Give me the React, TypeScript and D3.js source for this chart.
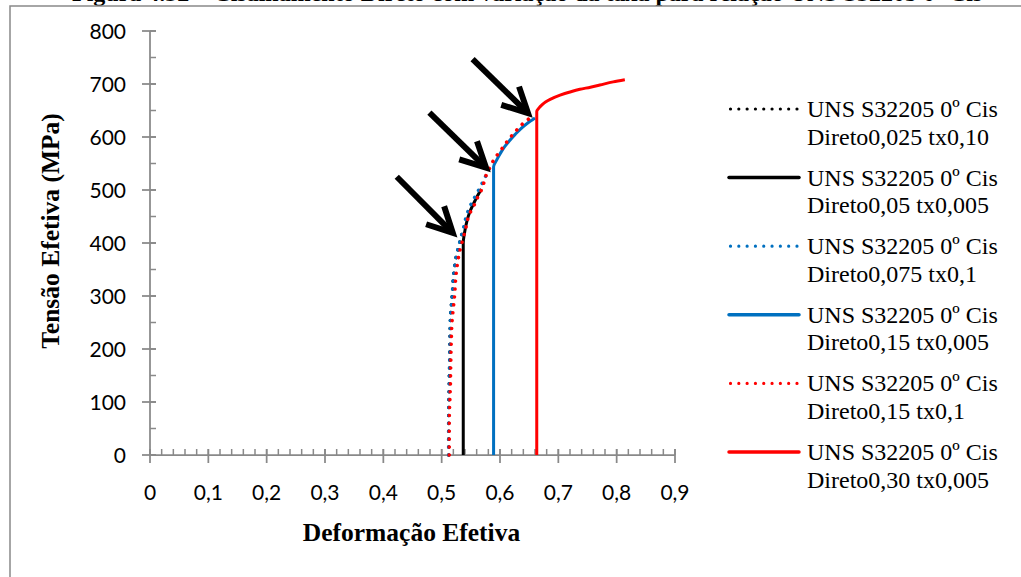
import React from "react";
import * as d3 from "d3";

type P = [number, number];

const xTicks = [0, 0.1, 0.2, 0.3, 0.4, 0.5, 0.6, 0.7, 0.8, 0.9];
const yTicks = [0, 100, 200, 300, 400, 500, 600, 700, 800];

const blackDotted: P[] = [
  [0.512, 0], [0.512, 60], [0.513, 134], [0.514, 194], [0.515, 255], [0.518, 299],
  [0.521, 344], [0.525, 374], [0.531, 400], [0.535, 416],
];
const blackSolid: P[] = [
  [0.537, 0], [0.537, 400], [0.539, 418], [0.543, 440], [0.548, 458], [0.555, 475],
  [0.562, 490], [0.568, 502],
];
const blueDotted: P[] = [
  [0.512, 0], [0.512, 60], [0.513, 134], [0.514, 194], [0.515, 255], [0.518, 299],
  [0.521, 344], [0.525, 374], [0.532, 406], [0.538, 431], [0.543, 453], [0.549, 470],
  [0.556, 485], [0.565, 503], [0.574, 523], [0.582, 541],
];
const blueSolid: P[] = [
  [0.589, 0], [0.589, 544], [0.594, 556], [0.6, 568], [0.608, 582], [0.617, 594],
  [0.626, 605], [0.636, 616], [0.647, 626], [0.66, 636],
];
const redDotted: P[] = [
  [0.513, 0], [0.513, 60], [0.515, 134], [0.516, 194], [0.518, 255], [0.522, 299],
  [0.525, 344], [0.529, 374], [0.536, 406], [0.539, 418], [0.542, 431], [0.547, 453],
  [0.551, 462], [0.556, 472], [0.559, 481], [0.565, 492], [0.569, 503], [0.573, 516],
  [0.577, 530], [0.584, 545], [0.591, 560], [0.598, 570], [0.606, 582], [0.614, 594],
  [0.623, 606], [0.631, 616], [0.641, 627], [0.653, 637],
];
const redSolid: P[] = [
  [0.663, 0], [0.663, 648], [0.667, 655], [0.6715, 660], [0.678, 666], [0.686, 671],
  [0.703, 679], [0.72, 685], [0.737, 690], [0.755, 694], [0.771, 698], [0.794, 704],
  [0.814, 708],
];

const seriesNames = [
  ["UNS S32205 0º Cis", "Direto0,025 tx0,10"],
  ["UNS S32205 0º Cis", "Direto0,05 tx0,005"],
  ["UNS S32205 0º Cis", "Direto0,075 tx0,1"],
  ["UNS S32205 0º Cis", "Direto0,15 tx0,005"],
  ["UNS S32205 0º Cis", "Direto0,15 tx0,1"],
  ["UNS S32205 0º Cis", "Direto0,30 tx0,005"],
];
const seriesData = [blackDotted, blackSolid, blueDotted, blueSolid, redDotted, redSolid];
const seriesColors = ["#000000", "#000000", "#0070C0", "#0070C0", "#FF0000", "#FF0000"];
const seriesDotted = [true, false, true, false, true, false];

// annotation arrows: [start, tip] in data units
const arrows: [P, P][] = [
  [[0.423, 525], [0.519, 419]],
  [[0.479, 646], [0.576, 542]],
  [[0.553, 747], [0.648, 645]],
];

const W = 1021;
const H = 577;
const AX = "#898989";

export default function App() {
  const x = d3.scaleLinear().domain([0, 0.9]).range([150, 675]);
  const y = d3.scaleLinear().domain([0, 800]).range([455, 31]);
  const line = d3
    .line<P>()
    .x((d) => x(d[0]))
    .y((d) => y(d[1]))
    .curve(d3.curveMonotoneY);

  const xMinor = d3.range(0, 0.9001, 0.02);
  const yMinor = d3.range(0, 800.01, 50);

  const legendX1 = 729;
  const legendX2 = 799;
  const legendY0 = 109;
  const legendStep = 68.6;

  const arrowPaths = arrows.map(([s, t]) => {
    const sx = x(s[0]);
    const sy = y(s[1]);
    const tx = x(t[0]);
    const ty = y(t[1]);
    const ang = Math.atan2(sy - ty, sx - tx);
    const L = 28;
    const a = (27 * Math.PI) / 180;
    const p1: P = [tx + L * Math.cos(ang - a), ty + L * Math.sin(ang - a)];
    const p2: P = [tx + L * Math.cos(ang + a), ty + L * Math.sin(ang + a)];
    const ex = tx + 3 * Math.cos(ang);
    const ey = ty + 3 * Math.sin(ang);
    return { shaft: `M${sx},${sy}L${ex},${ey}`, head: `M${p1[0]},${p1[1]}L${tx},${ty}L${p2[0]},${p2[1]}` };
  });

  return (
    <svg
      width={W}
      height={H}
      style={{ position: "absolute", left: 0, top: 0, background: "#fff" }}
    >
      <rect x={0} y={0} width={W} height={H} fill="#fff" />
      <text
        x={72}
        y={1}
        fontFamily="'Liberation Serif', 'Times New Roman', serif"
        fontWeight="bold"
        fontSize={24}
        fill="#000"
      >
        Figura 4.32 – Cisalhamento Direto com variação da taxa para relação UNS S32205 0º Cis
      </text>
      <rect x={10} y={6} width={W + 20} height={H + 20} fill="none" stroke={AX} strokeWidth={1.5} />

      {/* minor ticks */}
      {xMinor.map((v, i) => (
        <line key={"xm" + i} x1={x(v)} x2={x(v)} y1={455 - 6} y2={455} stroke={AX} strokeWidth={1.5} />
      ))}
      {yMinor.map((v, i) => (
        <line key={"ym" + i} x1={150} x2={156} y1={y(v)} y2={y(v)} stroke={AX} strokeWidth={1.5} />
      ))}
      {/* major ticks */}
      {xTicks.map((v, i) => (
        <line key={"xM" + i} x1={x(v)} x2={x(v)} y1={455 - 6} y2={455 + 8} stroke={AX} strokeWidth={1.75} />
      ))}
      {yTicks.map((v, i) => (
        <line key={"yM" + i} x1={142} x2={156} y1={y(v)} y2={y(v)} stroke={AX} strokeWidth={1.75} />
      ))}
      {/* axes */}
      <line x1={150} x2={150} y1={y(800)} y2={y(0)} stroke={AX} strokeWidth={1.75} />
      <line x1={x(0)} x2={x(0.9)} y1={455} y2={455} stroke={AX} strokeWidth={1.75} />

      {/* tick labels */}
      {yTicks.map((v, i) => (
        <text
          key={"yl" + i}
          x={126}
          y={y(v) + 7.5}
          textAnchor="end"
          fontFamily="Lato, 'Open Sans', sans-serif"
          fontSize={21}
          fill="#000"
        >
          {v}
        </text>
      ))}
      {xTicks.map((v, i) => (
        <text
          key={"xl" + i}
          x={x(v)}
          y={500}
          textAnchor="middle"
          fontFamily="Lato, 'Open Sans', sans-serif"
          fontSize={21}
          fill="#000"
        >
          {String(v).replace(".", ",")}
        </text>
      ))}

      {/* axis titles */}
      <text
        x={411.5}
        y={541}
        textAnchor="middle"
        fontFamily="'Liberation Serif', 'Times New Roman', serif"
        fontWeight="bold"
        fontSize={25.5}
        fill="#000"
      >
        Deformação Efetiva
      </text>
      <text
        transform="translate(59,231) rotate(-90)"
        textAnchor="middle"
        fontFamily="'Liberation Serif', 'Times New Roman', serif"
        fontWeight="bold"
        fontSize={25.5}
        fill="#000"
      >
        Tensão Efetiva (MPa)
      </text>

      {/* series */}
      {seriesData.map((d, i) => (
        <path
          key={"s" + i}
          d={line(d) || ""}
          fill="none"
          stroke={seriesColors[i]}
          strokeWidth={seriesDotted[i] ? 3.6 : 3}
          strokeLinecap={seriesDotted[i] ? "round" : "butt"}
          strokeLinejoin="round"
          strokeDasharray={seriesDotted[i] ? "0.01 7.9" : undefined}
        />
      ))}

      {/* arrows */}
      {arrowPaths.map((a, i) => (
        <g key={"a" + i}>
          <path d={a.shaft} stroke="#000" strokeWidth={6} fill="none" />
          <path d={a.head} stroke="#000" strokeWidth={6} fill="none" strokeLinejoin="miter" strokeMiterlimit={10} />
        </g>
      ))}

      {/* legend */}
      {seriesNames.map((nm, i) => {
        const ly = legendY0 + i * legendStep;
        return (
          <g key={"l" + i}>
            <line
              x1={legendX1 + (seriesDotted[i] ? 1.5 : 0)}
              x2={legendX2}
              y1={ly}
              y2={ly}
              stroke={seriesColors[i]}
              strokeWidth={seriesDotted[i] ? 3.2 : 3.5}
              strokeLinecap="round"
              strokeDasharray={seriesDotted[i] ? "0.01 8.3" : undefined}
            />
            <text
              x={807}
              y={ly + 8}
              fontFamily="'Liberation Serif', 'Times New Roman', serif"
              fontSize={24}
              fill="#000"
            >
              {nm[0]}
            </text>
            <text
              x={807}
              y={ly + 35.6}
              fontFamily="'Liberation Serif', 'Times New Roman', serif"
              fontSize={24}
              fill="#000"
            >
              {nm[1]}
            </text>
          </g>
        );
      })}
    </svg>
  );
}
